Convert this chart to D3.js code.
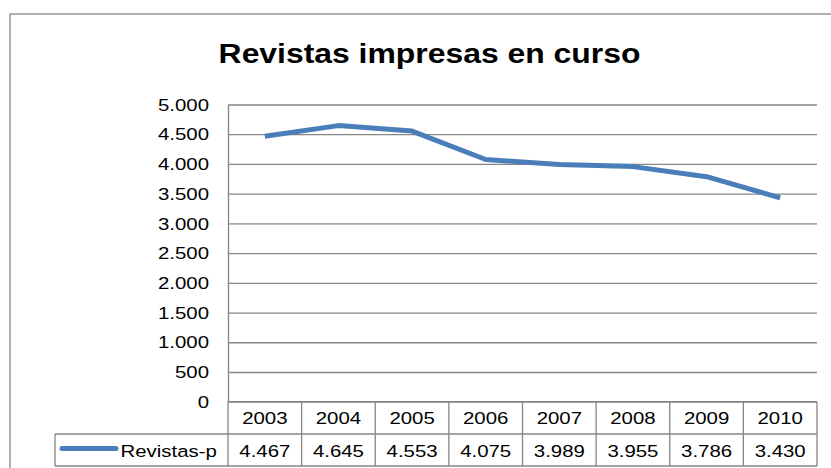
<!DOCTYPE html>
<html><head><meta charset="utf-8">
<script src="https://cdn.jsdelivr.net/npm/d3@7"></script>
<style>body{margin:0;background:#fff}svg{display:block}text{font-family:"Liberation Sans",Arial,sans-serif}</style>
</head><body>
<svg id="c" width="831" height="468"></svg>
<script>
const title = "Revistas impresas en curso";
const seriesName = "Revistas-p";
const years = ["2003","2004","2005","2006","2007","2008","2009","2010"];
const values = [4467,4645,4553,4075,3989,3955,3786,3430];
const yTicks = [0,500,1000,1500,2000,2500,3000,3500,4000,4500,5000];

const svg = d3.select("#c");
const grey = "#868686";
const blue = "#4A7EBB";
const SX = 1.2;
const L = 228, R = 817, T = 104.5, B = 401.7;
const row1 = B, row2 = 434, row3 = 466, legL = 55;

const loc = d3.formatLocale({decimal:",", thousands:".", grouping:[3], currency:["","€"]});
const fmt = loc.format(",d");

const x = d3.scaleBand().domain(years).range([L,R]);
const y = d3.scaleLinear().domain([0,5000]).range([B,T]);

function txt(g, s, px, py, anchor, size, weight, sx){
  return g.append("text").attr("transform",`translate(${px},${py}) scale(${sx||SX},1)`)
    .attr("text-anchor",anchor).attr("font-size",size).attr("font-weight",weight||"normal")
    .attr("fill","#000").text(s);
}

// outer frame
svg.append("rect").attr("x",10).attr("y",14).attr("width",860).attr("height",480)
  .attr("fill","#fff").attr("stroke",grey).attr("stroke-width",1.3);

// title
txt(svg, title, 429.5, 63, "middle", "27.5px", "bold", 1.16);

// y axis with gridlines
const ax = svg.append("g").attr("transform",`translate(${L},0)`)
  .call(d3.axisLeft(y).tickValues(yTicks).tickSize(-(R-L)).tickSizeOuter(0).tickFormat(()=>""));
ax.selectAll("line").attr("stroke",grey).attr("stroke-width",1.3);
ax.select(".domain").attr("stroke",grey).attr("stroke-width",1.3);
yTicks.forEach(v=>txt(svg, fmt(v), 209, y(v)+6.2, "end", "17px"));

// table
const tb = svg.append("g").attr("stroke",grey).attr("stroke-width",1.3).attr("fill","none");
tb.append("line").attr("x1",L).attr("x2",R).attr("y1",row1).attr("y2",row1);
tb.append("line").attr("x1",legL).attr("x2",R).attr("y1",row2).attr("y2",row2);
tb.append("line").attr("x1",legL).attr("x2",R).attr("y1",row3).attr("y2",row3);
tb.append("line").attr("x1",legL).attr("x2",legL).attr("y1",row2).attr("y2",row3);
years.forEach(yr=>{
  tb.append("line").attr("x1",x(yr)).attr("x2",x(yr)).attr("y1",row1).attr("y2",row3);
});
tb.append("line").attr("x1",R).attr("x2",R).attr("y1",row1).attr("y2",row3);

years.forEach((yr,i)=>{
  const cx = x(yr)+x.bandwidth()/2;
  txt(svg, yr, cx, (row1+row2)/2+6.5, "middle", "17px");
  txt(svg, fmt(values[i]), cx, (row2+row3)/2+6.5, "middle", "17px");
});
// legend key
svg.append("line").attr("x1",62).attr("x2",116).attr("y1",(row2+row3)/2-1.5).attr("y2",(row2+row3)/2-1.5)
  .attr("stroke",blue).attr("stroke-width",5).attr("stroke-linecap","round");
txt(svg, seriesName, 120.5, (row2+row3)/2+6.5, "start", "17px");

// line
const line = d3.line().x((d,i)=>x(years[i])+x.bandwidth()/2).y(d=>y(d));
svg.append("path").datum(values).attr("d",line).attr("fill","none")
  .attr("stroke",blue).attr("stroke-width",5).attr("stroke-linejoin","round").attr("stroke-linecap","butt");
</script>
</body></html>
